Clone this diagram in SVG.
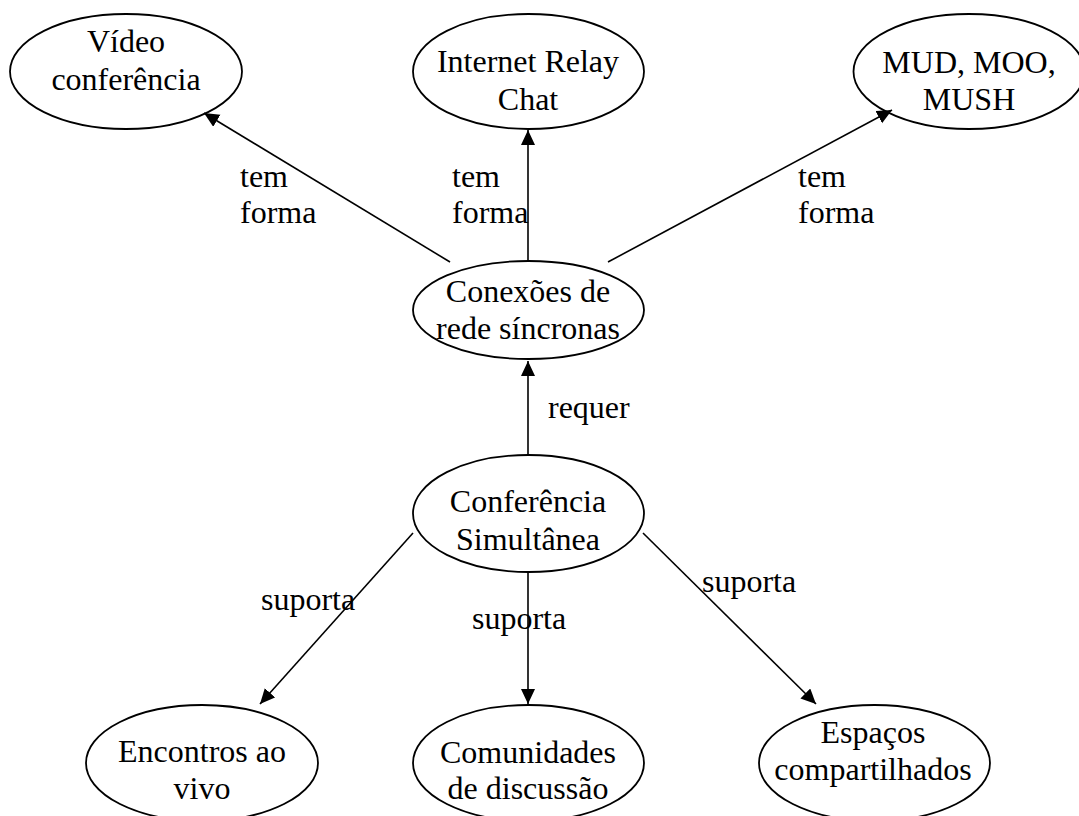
<svg xmlns="http://www.w3.org/2000/svg" width="1079" height="816" viewBox="0 0 1079 816">
<style>
  .node ellipse { fill: #fff; stroke: #000; stroke-width: 1.8; }
  text { font-family: "Liberation Serif", "Times New Roman", serif; font-size: 32px; fill: #000; }
  .c { text-anchor: middle; }
  .edge { stroke: #000; stroke-width: 1.6; fill: none; marker-end: url(#arr); }
</style>
<defs>
  <marker id="arr" markerUnits="userSpaceOnUse" markerWidth="16" markerHeight="16" refX="15" refY="7" orient="auto">
    <path d="M0,0 L15,7 L0,14 z" fill="#000"/>
  </marker>
</defs>
<rect width="1079" height="816" fill="#fff"/>
<g id="nodes">
  <g id="video" class="node">
    <ellipse cx="126" cy="71.5" rx="116" ry="57.5"/>
    <text class="c" x="126" y="52">Vídeo</text>
    <text class="c" x="126" y="90">conferência</text>
  </g>
  <g id="irc" class="node">
    <ellipse cx="528.5" cy="71.5" rx="115.5" ry="57.5"/>
    <text class="c" x="528" y="72">Internet Relay</text>
    <text class="c" x="528" y="110">Chat</text>
  </g>
  <g id="mud" class="node">
    <ellipse cx="969" cy="71.5" rx="115.5" ry="57.5"/>
    <text class="c" x="969" y="73">MUD, MOO,</text>
    <text class="c" x="969" y="110">MUSH</text>
  </g>
  <g id="conexoes" class="node">
    <ellipse cx="528.5" cy="310" rx="115.5" ry="49"/>
    <text class="c" x="528" y="302">Conexões de</text>
    <text class="c" x="528" y="339">rede síncronas</text>
  </g>
  <g id="conferencia" class="node">
    <ellipse cx="528.5" cy="513.5" rx="115.5" ry="58.5"/>
    <text class="c" x="528" y="512">Conferência</text>
    <text class="c" x="528" y="550">Simultânea</text>
  </g>
  <g id="encontros" class="node">
    <ellipse cx="202" cy="763" rx="116" ry="58"/>
    <text class="c" x="202" y="762">Encontros ao</text>
    <text class="c" x="202" y="799">vivo</text>
  </g>
  <g id="comunidades" class="node">
    <ellipse cx="528.5" cy="763" rx="115.5" ry="58"/>
    <text class="c" x="528" y="763">Comunidades</text>
    <text class="c" x="528" y="799">de discussão</text>
  </g>
  <g id="espacos" class="node">
    <ellipse cx="874.5" cy="763" rx="115.5" ry="58"/>
    <text class="c" x="873" y="743">Espaços</text>
    <text class="c" x="873" y="780">compartilhados</text>
  </g>
</g>
<g id="connectors">
  <line class="edge" x1="450" y1="262" x2="204" y2="113"/>
  <line class="edge" x1="528" y1="261" x2="528" y2="130"/>
  <line class="edge" x1="608" y1="262" x2="892" y2="110"/>
  <line class="edge" x1="528" y1="455" x2="528" y2="361"/>
  <line class="edge" x1="413" y1="533" x2="260" y2="704"/>
  <line class="edge" x1="528" y1="572" x2="528" y2="704"/>
  <line class="edge" x1="643" y1="533" x2="816" y2="704"/>
</g>
<g id="labels">
  <text x="240" y="187">tem</text>
  <text x="240" y="223">forma</text>
  <text x="452" y="187">tem</text>
  <text x="452" y="223">forma</text>
  <text x="798" y="187">tem</text>
  <text x="798" y="223">forma</text>
  <text x="548" y="418">requer</text>
  <text x="261" y="610">suporta</text>
  <text x="472" y="629">suporta</text>
  <text x="702" y="592">suporta</text>
</g>
</svg>
